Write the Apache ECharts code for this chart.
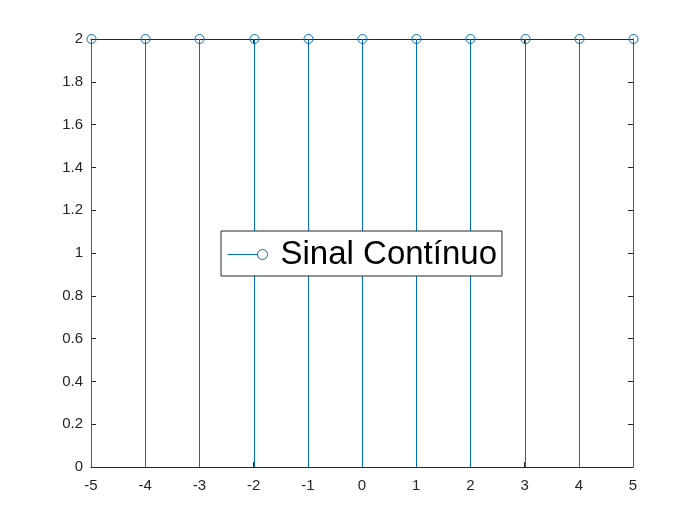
<!DOCTYPE html>
<html>
<head>
<meta charset="utf-8">
<script src="https://cdn.jsdelivr.net/npm/echarts@6/dist/echarts.min.js"></script>
<style>
html, body { margin: 0; padding: 0; background: #fff; }
#chart { width: 700px; height: 525px; }
</style>
</head>
<body>
<div id="chart"></div>
<script>
// dados do gráfico stem
var xValues = [-5, -4, -3, -2, -1, 0, 1, 2, 3, 4, 5];
var yValues = [2, 2, 2, 2, 2, 2, 2, 2, 2, 2, 2];
var seriesName = 'Sinal Contínuo';
var xRange = [-5, 5];
var yRange = [0, 2];

var stemColor = '#0072BD';
var axisColor = '#262626';
var font = '"Liberation Sans", Arial, sans-serif';

var points = [];
for (var i = 0; i < xValues.length; i++) {
    points.push([xValues[i], yValues[i]]);
}

var renderStem = function (params, api) {
    var base = api.coord([api.value(0), 0]);
    var top = api.coord([api.value(0), api.value(1)]);
    // meio pixel para a linha ficar nítida
    var x = Math.round(base[0]) + 0.5;
    return {
        type: 'group',
        children: [{
            type: 'line',
            shape: { x1: x, y1: base[1], x2: x, y2: top[1] },
            style: { stroke: stemColor, lineWidth: 1 }
        }, {
            type: 'circle',
            shape: { cx: x, cy: top[1], r: 4.5 },
            style: { fill: 'none', stroke: stemColor, lineWidth: 1 }
        }]
    };
};

var axisBase = function (pos, showLabels) {
    return {
        type: 'value',
        position: pos,
        axisLine: { show: true, onZero: false, lineStyle: { color: axisColor, width: 1 } },
        axisTick: { show: true, inside: true, length: 5, lineStyle: { color: axisColor } },
        axisLabel: { show: showLabels, color: axisColor, fontSize: 15, fontFamily: font },
        splitLine: { show: false }
    };
};

var xBottom = axisBase('bottom', true);
xBottom.min = xRange[0]; xBottom.max = xRange[1]; xBottom.interval = 1;
xBottom.axisLabel.margin = 11;
var xTop = axisBase('top', false);
xTop.min = xRange[0]; xTop.max = xRange[1]; xTop.interval = 1;
var yLeft = axisBase('left', true);
yLeft.min = yRange[0]; yLeft.max = yRange[1]; yLeft.interval = 0.2;
yLeft.axisLabel.margin = 8;
var yRight = axisBase('right', false);
yRight.min = yRange[0]; yRight.max = yRange[1]; yRight.interval = 0.2;

var myChart = echarts.init(document.getElementById('chart'));
myChart.setOption({
    animation: false,
    backgroundColor: '#fff',
    grid: { left: 91, right: 67, top: 39, bottom: 58 },
    xAxis: [xBottom, xTop],
    yAxis: [yLeft, yRight],
    legend: {
        data: [{
            name: seriesName,
            icon: 'path://M0,5 L30,5 M40,5 A5,5 0 1 1 30,5 A5,5 0 1 1 40,5'
        }],
        left: 221,
        top: 231,
        itemWidth: 40,
        itemHeight: 10,
        padding: [7, 5, 5, 4],
        backgroundColor: '#fff',
        borderColor: axisColor,
        borderWidth: 1,
        borderRadius: 0,
        itemStyle: { color: 'none', borderColor: stemColor, borderWidth: 1 },
        textStyle: { fontSize: 33, color: '#000', fontFamily: font, padding: [0, 0, 0, 8], lineHeight: 33 }
    },
    series: [{
        name: seriesName,
        type: 'custom',
        xAxisIndex: 0,
        yAxisIndex: 0,
        clip: false,
        renderItem: renderStem,
        encode: { x: 0, y: 1 },
        itemStyle: { color: stemColor },
        data: points
    }]
});
</script>
</body>
</html>
